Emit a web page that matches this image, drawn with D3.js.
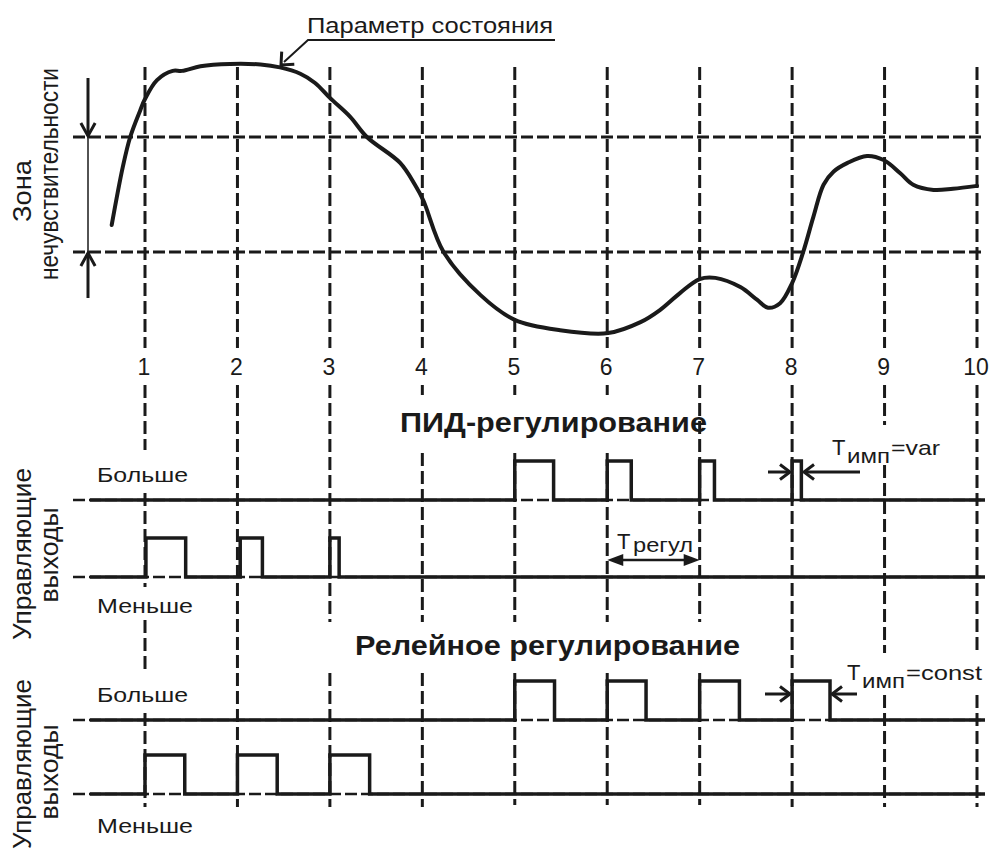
<!DOCTYPE html>
<html>
<head>
<meta charset="utf-8">
<script src="https://cdn.jsdelivr.net/npm/d3@7"></script>
<style>
  body { margin: 0; background: #fff; }
  svg { display: block; font-family: Arial, "Liberation Sans", sans-serif; }
</style>
</head>
<body>
<svg id="chart" width="990" height="853"></svg>
<script>
// time axis ticks
var ticks = [1, 2, 3, 4, 5, 6, 7, 8, 9, 10];

// state parameter: time (in ticks) and value (arbitrary units)
var paramT = [0.64, 0.76, 0.84, 0.95, 1.0, 1.13, 1.3, 1.4, 1.6, 1.92, 2.25, 2.46, 2.68, 2.84, 3.0, 3.22, 3.4,
              3.76, 3.92, 4.01, 4.23, 4.63, 5.0, 5.49, 6.01, 6.36, 6.57, 6.79, 7.0, 7.17, 7.44, 7.62,
              7.74, 7.87, 8.0, 8.12, 8.23, 8.34, 8.45, 8.6, 8.81, 8.99, 9.17, 9.31, 9.53, 9.74, 10.0];
var paramV = [44.7, 54.8, 60, 64.7, 66.6, 69.9, 71.5, 71.5, 72.3, 72.7, 72.6, 72.1, 71.0, 69.4, 66.8, 63.5, 60,
              55.5, 51.7, 49, 40, 32.5, 28.2, 26.4, 25.9, 27.8, 29.9, 32.9, 35.3, 35.5, 33.9, 31.7,
              30.3, 31.1, 34.6, 40, 46.1, 51.7, 54, 55.5, 56.7, 56, 53.7, 51.7, 50.8, 51, 51.5];

// dead zone bounds
var deadZone = [40, 60];

// control output pulses [start, end], in ticks
var pidMore   = [[5, 5.42], [6, 6.26], [7, 7.16], [8, 8.1]];
var pidLess   = [[1.01, 1.44], [2.03, 2.27], [3, 3.1]];
var relayMore = [[5, 5.43], [6, 6.42], [7, 7.43], [8, 8.41]];
var relayLess = [[1, 1.43], [2, 2.43], [3, 3.43]];

var svg = d3.select("#chart");
var ink = "#1a1a1a";

var x = d3.scaleLinear().domain([1, 10]).range([145, 977]);
var y = d3.scaleLinear().domain(deadZone).range([252, 137]);

var leftEdge = 73, rightEdge = 985, signalStart = 90;

// dashed grid, broken where the labels sit
var gridSegs = {
  1: [[67, 348], [385, 450], [493, 587], [620, 672], [713, 807]],
  2: [[67, 348], [385, 807]],
  3: [[67, 348], [385, 622], [673, 807]],
  4: [[67, 348], [385, 395], [453, 622], [673, 807]],
  5: [[67, 348], [385, 395], [453, 622], [673, 805]],
  6: [[67, 348], [385, 395], [453, 622], [673, 805]],
  7: [[67, 348], [385, 622], [673, 805]],
  8: [[67, 348], [385, 807]],
  9: [[67, 348], [385, 425], [465, 653], [695, 807]],
  10: [[67, 348], [385, 653], [695, 807]]
};

var grid = svg.append("g").attr("class", "grid");
ticks.forEach(function(t) {
  gridSegs[t].forEach(function(s) {
    grid.append("line")
      .attr("x1", x(t)).attr("x2", x(t))
      .attr("y1", s[0]).attr("y2", s[1])
      .attr("stroke", ink)
      .attr("stroke-width", 3)
      .attr("stroke-dasharray", "13,5");
  });
});

// dead zone lines
deadZone.forEach(function(v) {
  svg.append("line")
    .attr("x1", leftEdge).attr("x2", rightEdge)
    .attr("y1", y(v)).attr("y2", y(v))
    .attr("stroke", ink)
    .attr("stroke-width", 3)
    .attr("stroke-dasharray", "12,4");
});

// tick labels
svg.append("g").selectAll("text")
  .data(ticks)
  .enter().append("text")
    .attr("x", function(d) { return x(d) - 1; })
    .attr("y", 375)
    .attr("text-anchor", "middle")
    .attr("font-size", 23)
    .attr("fill", ink)
    .text(function(d) { return d; });

// the parameter curve
var paramData = paramT.map(function(t, i) { return [t, paramV[i]]; });
svg.append("path")
  .datum(paramData)
  .attr("fill", "none")
  .attr("stroke", ink)
  .attr("stroke-width", 4)
  .attr("stroke-linecap", "round")
  .attr("d", d3.line()
    .x(function(d) { return x(d[0]); })
    .y(function(d) { return y(d[1]); })
    .curve(d3.curveCatmullRom.alpha(0.5)));

function vHead(g, tipX, tipY, dx, dy, w) {
  // open arrowhead; (dx, dy) points back along the shaft
  var px = -dy, py = dx;
  g.append("polyline")
    .attr("points", [
      [tipX + dx + px * w, tipY + dy + py * w],
      [tipX, tipY],
      [tipX + dx - px * w, tipY + dy - py * w]
    ].map(function(p) { return p.join(","); }).join(" "))
    .attr("fill", "none")
    .attr("stroke", ink)
    .attr("stroke-width", 3);
}

function fillHead(g, tipX, tipY, dir) {
  g.append("polygon")
    .attr("points", [[tipX, tipY], [tipX - dir * 16, tipY - 6], [tipX - dir * 16, tipY + 6]]
      .map(function(p) { return p.join(","); }).join(" "))
    .attr("fill", ink);
}

var ann = svg.append("g").attr("class", "annotations");

// callout for the parameter curve
ann.append("polyline")
  .attr("points", "555,40 308,40 284,62")
  .attr("fill", "none").attr("stroke", ink).attr("stroke-width", 2);
vHead(ann, 281, 65, 7, -7, 0.9);

// dead zone arrows
ann.append("line").attr("x1", 88).attr("x2", 88).attr("y1", 78).attr("y2", 136)
  .attr("stroke", ink).attr("stroke-width", 3);
vHead(ann, 88, 136, 0, -13, 0.55);
ann.append("line").attr("x1", 88).attr("x2", 88).attr("y1", 137).attr("y2", 252)
  .attr("stroke", ink).attr("stroke-width", 1.5);
ann.append("line").attr("x1", 88).attr("x2", 88).attr("y1", 253).attr("y2", 298)
  .attr("stroke", ink).attr("stroke-width", 3);
vHead(ann, 88, 253, 0, 13, 0.55);

// pulse trains
function pulseTrain(pulses) {
  var pts = [[x.invert(signalStart), 0]];
  pulses.forEach(function(p) {
    pts.push([p[0], 0], [p[0], 1], [p[1], 1], [p[1], 0]);
  });
  pts.push([x.invert(rightEdge), 0]);
  return pts;
}

function drawChannel(base, pulses) {
  var lvl = d3.scaleLinear().domain([0, 1]).range([base, base - 39]);
  svg.append("line")
    .attr("x1", leftEdge).attr("x2", rightEdge)
    .attr("y1", base).attr("y2", base)
    .attr("stroke", ink)
    .attr("stroke-width", 2.5)
    .attr("stroke-dasharray", "12,4");
  svg.append("path")
    .datum(pulseTrain(pulses))
    .attr("fill", "none")
    .attr("stroke", ink)
    .attr("stroke-width", 3.5)
    .attr("stroke-linejoin", "miter")
    .attr("d", d3.line()
      .x(function(d) { return x(d[0]); })
      .y(function(d) { return lvl(d[1]); }));
}

drawChannel(500, pidMore);
drawChannel(577, pidLess);
drawChannel(720, relayMore);
drawChannel(794, relayLess);

// T regul
ann.append("line").attr("x1", x(6) + 10).attr("x2", x(7) - 10).attr("y1", 560).attr("y2", 560)
  .attr("stroke", ink).attr("stroke-width", 2.5);
fillHead(ann, x(6), 560, -1);
fillHead(ann, x(7), 560, 1);

// T imp = var
ann.append("line").attr("x1", 768).attr("x2", 789).attr("y1", 472).attr("y2", 472)
  .attr("stroke", ink).attr("stroke-width", 3);
vHead(ann, 790, 472, -10, 0, 0.75);
ann.append("line").attr("x1", 805).attr("x2", 860).attr("y1", 472).attr("y2", 472)
  .attr("stroke", ink).attr("stroke-width", 3);
vHead(ann, 804, 472, 10, 0, 0.75);

// T imp = const
ann.append("line").attr("x1", 765).attr("x2", 789).attr("y1", 694).attr("y2", 694)
  .attr("stroke", ink).attr("stroke-width", 3);
vHead(ann, 790, 694, -10, 0, 0.75);
ann.append("line").attr("x1", 833).attr("x2", 857).attr("y1", 694).attr("y2", 694)
  .attr("stroke", ink).attr("stroke-width", 3);
vHead(ann, 832, 694, 10, 0, 0.75);

// text helpers
function label(str, px, py, size, width, opts) {
  opts = opts || {};
  var t = svg.append("text")
    .attr("x", px).attr("y", py)
    .attr("font-size", size)
    .attr("font-weight", opts.bold ? "bold" : null)
    .attr("text-anchor", opts.anchor || "start")
    .attr("fill", ink)
    .text(str);
  if (width) t.attr("textLength", width).attr("lengthAdjust", "spacingAndGlyphs");
  return t;
}

function vlabel(str, px, cy, size, len) {
  svg.append("text")
    .attr("transform", "translate(" + px + "," + cy + ") rotate(-90)")
    .attr("text-anchor", "middle")
    .attr("font-size", size)
    .attr("fill", ink)
    .attr("textLength", len)
    .attr("lengthAdjust", "spacingAndGlyphs")
    .text(str);
}

label("Параметр состояния", 307, 33, 22, 246);

vlabel("Зона", 31, 191, 26, 62);
vlabel("нечувствительности", 58, 174, 26, 212);

label("ПИД-регулирование", 400, 432, 28, 307, { bold: true });
label("Релейное регулирование", 355, 655, 28, 385, { bold: true });

label("Больше", 97, 482, 21, 91);
label("Меньше", 97, 613, 21, 96);
label("Больше", 97, 702, 21, 91);
label("Меньше", 97, 833, 21, 96);

vlabel("Управляющие", 31, 554, 26, 172);
vlabel("выходы", 58, 555, 26, 95);
vlabel("Управляющие", 31, 764, 26, 170);
vlabel("выходы", 58, 772, 26, 95);

// subscripted period labels
label("T", 617, 549, 22);
label("регул", 633, 552, 21, 60);

label("T", 832, 455, 22);
label("имп", 847, 463, 21, 43);
label("=var", 891, 455, 21, 49);

label("T", 847, 680, 22);
label("имп", 862, 688, 21, 43);
label("=const", 906, 680, 21, 76);
</script>
</body>
</html>
